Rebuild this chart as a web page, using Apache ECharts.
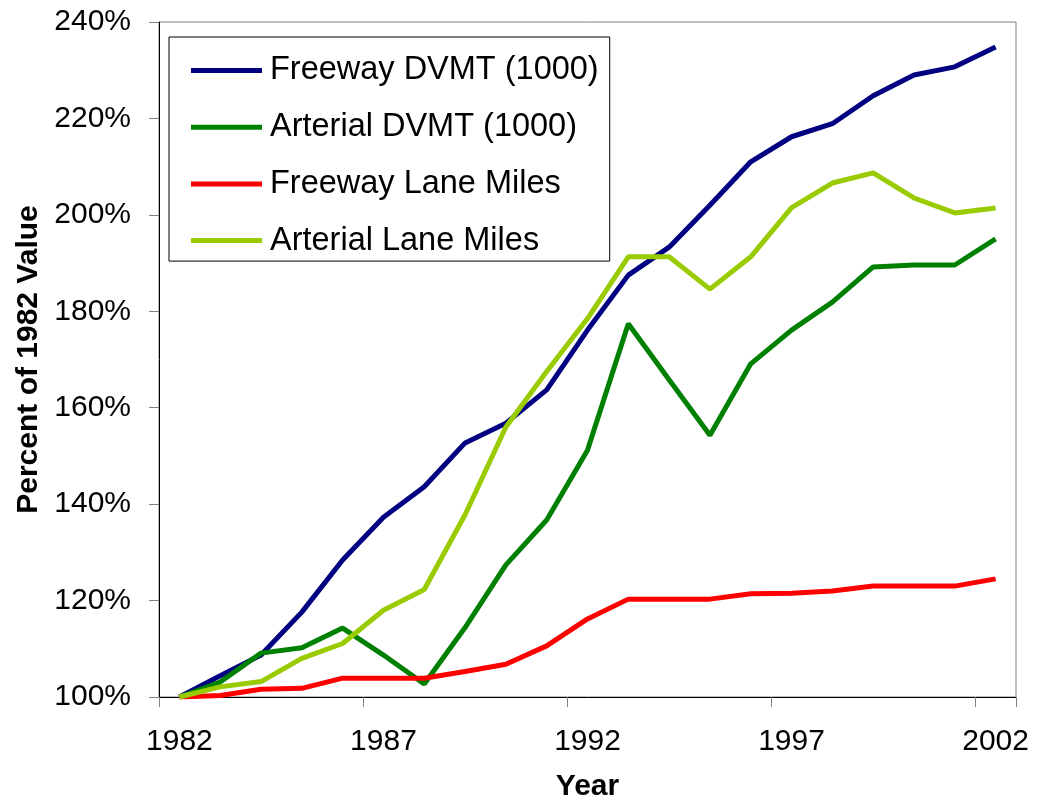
<!DOCTYPE html>
<html>
<head>
<meta charset="utf-8">
<script src="https://cdn.jsdelivr.net/npm/echarts@6/dist/echarts.min.js"></script>
<style>
html,body{margin:0;padding:0;background:#fff;}
#chart{width:1045px;height:797px;}
</style>
</head>
<body>
<div id="chart"></div>
<script>
const years = ['1982','1983','1984','1985','1986','1987','1988','1989','1990','1991','1992','1993','1994','1995','1996','1997','1998','1999','2000','2001','2002'];
const freewayDVMT = [100, 104.4, 108.7, 117.6, 128.4, 137.3, 143.6, 152.7, 156.8, 163.7, 176.1, 187.5, 193.3, 202.0, 211.0, 216.2, 218.9, 224.7, 229.0, 230.7, 234.8];
const arterialDVMT = [100, 103.1, 109.1, 110.2, 114.3, 108.7, 102.7, 114.4, 127.4, 136.7, 151.2, 177.4, 165.8, 154.3, 169.1, 176.1, 181.9, 189.2, 189.6, 189.6, 195.0];
const freewayLaneMiles = [100, 100.3, 101.6, 101.8, 103.9, 103.9, 103.9, 105.3, 106.8, 110.6, 116.2, 120.3, 120.3, 120.3, 121.4, 121.5, 122.0, 123.0, 123.0, 123.0, 124.5];
const arterialLaneMiles = [100, 102.1, 103.2, 108.0, 111.1, 118.0, 122.3, 137.8, 156.0, 167.5, 178.5, 191.3, 191.3, 184.6, 191.3, 201.5, 206.6, 208.7, 203.5, 200.4, 201.4];
const seriesNames = ['Freeway DVMT (1000)', 'Arterial DVMT (1000)', 'Freeway Lane Miles', 'Arterial Lane Miles'];
const seriesColors = ['#000080', '#008000', '#FF0000', '#99CC00'];
const seriesData = [freewayDVMT, arterialDVMT, freewayLaneMiles, arterialLaneMiles];

const FONT = 'Liberation Sans, Arial, sans-serif';
const chart = echarts.init(document.getElementById('chart'), null, {renderer: 'canvas'});
chart.setOption({
  animation: false,
  backgroundColor: '#fff',
  grid: {left: 159, right: 29, top: 22, bottom: 100, containLabel: false, outerBoundsMode: 'none',
    show: true, borderColor: '#808080', borderWidth: 1, backgroundColor: '#fff'},
  legend: {
    left: 169, top: 37, orient: 'vertical',
    backgroundColor: '#fff', borderColor: '#000', borderWidth: 1,
    padding: [17, 11, 4, 22],
    itemGap: 23.7, itemWidth: 71, itemHeight: 5, icon: 'rect',
    textStyle: {fontFamily: FONT, fontSize: 32.5, color: '#000', padding: [0, 0, 0, 3]},
    data: seriesNames
  },
  xAxis: {
    type: 'category', data: years, boundaryGap: true,
    name: 'Year', nameLocation: 'middle', nameGap: 75,
    nameTextStyle: {fontFamily: FONT, fontSize: 30, fontWeight: 'bold', color: '#000'},
    axisLine: {lineStyle: {color: '#000', width: 1}},
    axisTick: {show: true, interval: function (idx) { return idx % 5 === 0; }, length: 10, inside: false, lineStyle: {color: '#808080'}},
    axisLabel: {interval: 4, margin: 30, fontFamily: FONT, fontSize: 30, color: '#000'},
    splitLine: {show: false}
  },
  yAxis: {
    type: 'value', min: 100, max: 240, interval: 20,
    name: 'Percent of 1982 Value', nameLocation: 'middle', nameGap: 114, nameRotate: 90,
    nameTextStyle: {fontFamily: FONT, fontSize: 30, fontWeight: 'bold', color: '#000'},
    axisLine: {show: true, lineStyle: {color: '#000', width: 1}},
    axisTick: {show: true, length: 10, inside: false, lineStyle: {color: '#808080'}},
    axisLabel: {margin: 28, fontFamily: FONT, fontSize: 30, color: '#000', formatter: '{value}%'},
    splitLine: {show: false}
  },
  series: seriesNames.map((n, i) => ({
    name: n, type: 'line', data: seriesData[i], symbol: 'none',
    color: seriesColors[i],
    lineStyle: {color: seriesColors[i], width: 5},
    itemStyle: {color: seriesColors[i]}
  }))
});
</script>
</body>
</html>
